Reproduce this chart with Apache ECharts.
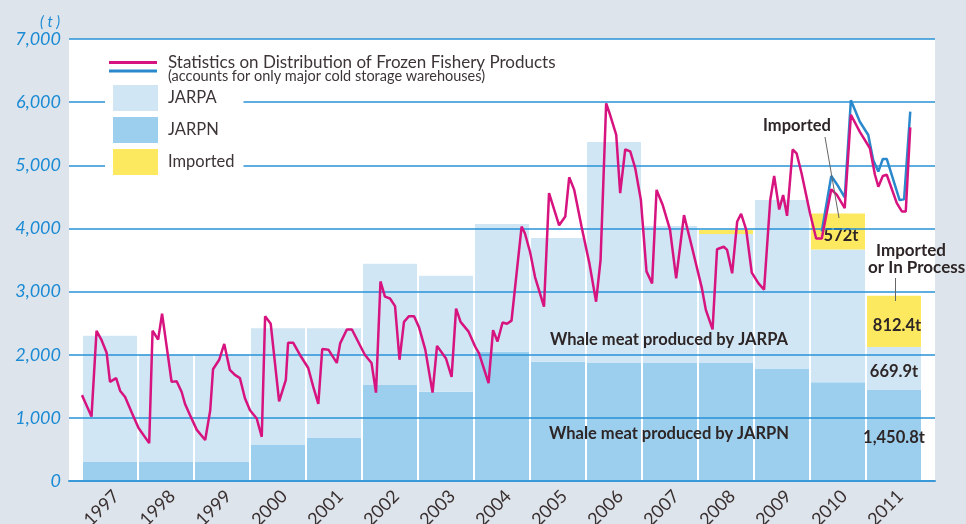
<!DOCTYPE html>
<html>
<head>
<meta charset="utf-8">
<script src="https://cdn.jsdelivr.net/npm/echarts@6/dist/echarts.min.js"></script>
<style>
  html, body { margin: 0; padding: 0; background: #dde4eb; }
  #chart { width: 966px; height: 524px; }
</style>
</head>
<body>
<div id="chart"></div>
<script>
// years on the category axis
var years = ['1997', '1998', '1999', '2000', '2001', '2002', '2003', '2004',
             '2005', '2006', '2007', '2008', '2009', '2010', '2011'];

// whale meat stock (t), stacked bars
var jarpn = [300, 300, 300, 570, 690, 1520, 1415, 2045, 1890, 1875, 1875, 1875, 1780, 1565, 1450.8];
var jarpa = [2000, 1700, 1700, 1850, 1730, 1920, 1835, 2025, 1960, 3495, 2165, 2035, 2670, 2100, 669.9];
var imported = [0, 0, 0, 0, 0, 0, 0, 0, 0, 0, 0, 65, 0, 572, 812.4];

var jarpnLabels = ['', '', '', '', '', '', '', '', '', '', '', '', '', '', '1,450.8t'];
var jarpaLabels = ['', '', '', '', '', '', '', '', '', '', '', '', '', '', '669.9t'];
var importedLabels = ['', '', '', '', '', '', '', '', '', '', '', '', '', '572t', '812.4t'];

// Statistics on Distribution of Frozen Fishery Products (monthly, time in years)
var distTime = [1997.00, 1997.08, 1997.17, 1997.26, 1997.35, 1997.44, 1997.50, 1997.61, 1997.68, 1997.77, 1997.89,
  1998.01, 1998.20, 1998.26, 1998.36, 1998.43, 1998.60, 1998.69, 1998.78, 1998.84, 1998.93,
  1999.05, 1999.20, 1999.29, 1999.34, 1999.45, 1999.54, 1999.64, 1999.73, 1999.82, 1999.91,
  2000.00, 2000.12, 2000.21, 2000.27, 2000.37, 2000.52, 2000.64, 2000.68, 2000.77, 2000.89,
  2001.04, 2001.13, 2001.22, 2001.29, 2001.40, 2001.55, 2001.61, 2001.73, 2001.82,
  2002.05, 2002.17, 2002.25, 2002.33, 2002.41, 2002.50, 2002.59, 2002.67, 2002.75, 2002.84, 2002.93,
  2003.02, 2003.13, 2003.26, 2003.34, 2003.50, 2003.60, 2003.68, 2003.76, 2003.90,
  2004.02, 2004.09, 2004.26, 2004.34, 2004.42, 2004.51, 2004.59, 2004.67, 2004.85, 2004.91,
  2005.00, 2005.09, 2005.25, 2005.34, 2005.52, 2005.63, 2005.70, 2005.79, 2005.92,
  2006.06, 2006.18, 2006.26, 2006.36, 2006.43, 2006.54, 2006.61, 2006.70, 2006.79, 2006.88, 2006.98,
  2007.08, 2007.18, 2007.26, 2007.37, 2007.50, 2007.61, 2007.75, 2007.89,
  2008.07, 2008.14, 2008.26, 2008.34, 2008.46, 2008.52, 2008.61, 2008.70, 2008.77, 2008.86, 2008.96,
  2009.08, 2009.18, 2009.29, 2009.36, 2009.45, 2009.52, 2009.59, 2009.69, 2009.76, 2009.85,
  2010.00, 2010.11, 2010.21, 2010.38, 2010.48, 2010.62, 2010.73, 2010.89,
  2011.07, 2011.16, 2011.22, 2011.30, 2011.37, 2011.55, 2011.64, 2011.71, 2011.79];
var distValue = [1360, 1200, 1020, 2380, 2230, 2030, 1570, 1630, 1430, 1330, 1080,
  840, 600, 2380, 2240, 2650, 1570, 1580, 1410, 1220, 1040,
  810, 650, 1120, 1770, 1920, 2170, 1760, 1680, 1630, 1310,
  1120, 990, 700, 2610, 2490, 1260, 1600, 2190, 2190, 2000,
  1790, 1490, 1220, 2090, 2080, 1870, 2180, 2400, 2400,
  2000, 1870, 1400, 3160, 2920, 2890, 2770, 1920, 2520, 2610, 2610,
  2430, 2080, 1400, 2140, 1940, 1650, 2730, 2520, 2370,
  2130, 2020, 1550, 2390, 2210, 2510, 2490, 2540, 4030, 3920,
  3630, 3230, 2760, 4560, 4050, 4190, 4810, 4610, 4030,
  3450, 2840, 3500, 5980, 5800, 5480, 4560, 5250, 5220, 4950, 4450,
  3320, 3130, 4610, 4370, 3980, 3210, 4210, 3710,
  3050, 2710, 2400, 3670, 3710, 3660, 3290, 4110, 4230, 3980, 3300,
  3130, 3030, 4450, 4830, 4300, 4530, 4200, 5250, 5190, 4870,
  4240, 3840, 3840, 4620, 4530, 4320, 5800, 5530,
  5270, 4850, 4660, 4830, 4850, 4400, 4270, 4270, 5600];

// upper line from 2010 on
var majorTime = [2010.21, 2010.38, 2010.48, 2010.62, 2010.73, 2010.89,
  2011.04, 2011.13, 2011.22, 2011.30, 2011.37, 2011.60, 2011.68, 2011.79];
var majorValue = [3950, 4830, 4700, 4490, 6030, 5690,
  5480, 5080, 4900, 5100, 5100, 4450, 4460, 5850];

(function () {
    var chart = echarts.init(document.getElementById('chart'));
    var dark = '#2e2626';
    var gridBlue = '#2792d6';

    function pairs(t, v) {
        return t.map(function (x, i) { return [x, v[i]]; });
    }

    function labelFrom(list, offset) {
        return {
            show: true,
            position: 'inside',
            offset: offset || [0, 0],
            fontFamily: 'Lato',
            fontWeight: 'bold',
            fontSize: 16.5,
            color: dark,
            formatter: function (p) { return list[p.dataIndex]; }
        };
    }

    var option = {
        backgroundColor: '#dde4eb',
        animation: false,
        title: {
            text: '( t )',
            left: 35, top: 10,
            textStyle: { color: '#1a8ad4', fontStyle: 'italic', fontFamily: 'Lato', fontSize: 15, fontWeight: 'normal' }
        },
        legend: [
            {
                data: [{ name: 'Statistics on Distribution of Frozen Fishery Products', icon: 'rect' }],
                left: 109, top: 54, padding: 0, z: 7,
                itemWidth: 48, itemHeight: 3, selectedMode: false,
                textStyle: { fontFamily: 'Lato', fontSize: 17, color: '#3d3535', padding: [0, 0, 0, 6] }
            },
            {
                data: [{ name: 'Major cold storage warehouses', icon: 'rect' }],
                left: 109, top: 69.5, padding: 0, z: 7,
                itemWidth: 48, itemHeight: 3, selectedMode: false,
                formatter: function () { return ''; },
                textStyle: { fontSize: 1 }
            },
            {
                data: [{ name: 'JARPA', icon: 'rect' }, { name: 'JARPN', icon: 'rect' }, { name: 'Imported', icon: 'rect' }],
                orient: 'vertical',
                left: 105, top: 81, z: 6,
                padding: [4, 9, 6, 8],
                backgroundColor: '#fff',
                itemWidth: 45, itemHeight: 26, itemGap: 6, selectedMode: false,
                textStyle: { fontFamily: 'Lato', fontSize: 16.5, color: '#3d3535', padding: [0, 0, 0, 5] }
            }
        ],
        grid: [
            { left: 69, right: 31, top: 39, bottom: 43, show: true, backgroundColor: '#fff', borderWidth: 0, outerBoundsMode: 'none' },
            { left: 82, right: 44, top: 39, bottom: 43, outerBoundsMode: 'none' }
        ],
        xAxis: [
            {
                type: 'value', gridIndex: 0, min: 1996.768, max: 2012.232, z: 5,
                axisLine: { show: true, lineStyle: { color: '#3a9ad9', width: 2 } },
                axisTick: { show: false }, axisLabel: { show: false }, splitLine: { show: false }
            },
            {
                type: 'category', gridIndex: 1, data: years,
                axisLine: { show: false }, axisTick: { show: false },
                axisLabel: {
                    interval: 0, rotate: 45, margin: 6, verticalAlign: 'top',
                    fontFamily: 'Lato', fontSize: 18, color: '#3a2f2f'
                }
            }
        ],
        yAxis: [
            {
                type: 'value', gridIndex: 0, min: 0, max: 7000, interval: 1000, z: 3,
                axisLine: { show: false }, axisTick: { show: false },
                axisLabel: {
                    margin: 8, fontFamily: 'Lato', fontStyle: 'italic', fontSize: 18, color: '#1a8ad4',
                    formatter: function (v) { return v === 0 ? '0' : v.toLocaleString('en-US'); }
                },
                splitLine: { lineStyle: { color: gridBlue, width: 1.5 } }
            },
            { type: 'value', gridIndex: 1, min: 0, max: 7000, interval: 1000, show: false, splitLine: { show: false } }
        ],
        series: [
            {
                name: 'JARPN', type: 'bar', stack: 'whale', xAxisIndex: 1, yAxisIndex: 1,
                barWidth: 54, z: 2, data: jarpn,
                itemStyle: { color: '#9ccfee' }, label: labelFrom(jarpnLabels, [0, 2])
            },
            {
                name: 'JARPA', type: 'bar', stack: 'whale', xAxisIndex: 1, yAxisIndex: 1,
                barWidth: 54, z: 2, data: jarpa,
                itemStyle: { color: '#d0e6f5' }, label: labelFrom(jarpaLabels, [0, 3])
            },
            {
                name: 'Imported', type: 'bar', stack: 'whale', xAxisIndex: 1, yAxisIndex: 1,
                barWidth: 54, z: 2, data: imported,
                itemStyle: { color: '#fde95f' }, label: labelFrom(importedLabels, [3, 4])
            },
            {
                name: 'Major cold storage warehouses', type: 'line', xAxisIndex: 0, yAxisIndex: 0,
                data: pairs(majorTime, majorValue), symbol: 'none', z: 5,
                itemStyle: { color: '#2a88cc' }, lineStyle: { color: '#2a88cc', width: 2.5 }
            },
            {
                name: 'Statistics on Distribution of Frozen Fishery Products', type: 'line', xAxisIndex: 0, yAxisIndex: 0,
                data: pairs(distTime, distValue), symbol: 'none', z: 6,
                itemStyle: { color: '#d6137f' }, lineStyle: { color: '#d6137f', width: 2.5 }
            }
        ],
        graphic: [
            { type: 'text', z: 10, style: { text: '(accounts for only major cold storage warehouses)', x: 168, y: 76, align: 'left', verticalAlign: 'middle', font: '14.5px Lato', fill: '#3d3535' } },
            { type: 'text', z: 10, style: { text: 'Whale meat produced by JARPA', x: 669, y: 340, align: 'center', verticalAlign: 'middle', font: 'bold 16.5px Lato', fill: dark } },
            { type: 'text', z: 10, style: { text: 'Whale meat produced by JARPN', x: 669, y: 434, align: 'center', verticalAlign: 'middle', font: 'bold 16.5px Lato', fill: dark } },
            { type: 'text', z: 10, style: { text: 'Imported', x: 797, y: 126, align: 'center', verticalAlign: 'middle', font: 'bold 16.5px Lato', fill: dark } },
            { type: 'text', z: 10, style: { text: 'Imported', x: 876, y: 251, align: 'left', verticalAlign: 'middle', font: 'bold 17px Lato', fill: dark } },
            { type: 'text', z: 10, style: { text: 'or In Process', x: 868, y: 268, align: 'left', verticalAlign: 'middle', font: 'bold 17px Lato', fill: dark } },
            { type: 'line', z: 10, shape: { x1: 825, y1: 137, x2: 839, y2: 218 }, style: { stroke: '#666', lineWidth: 1 } },
            { type: 'line', z: 10, shape: { x1: 895.5, y1: 278, x2: 895.5, y2: 301 }, style: { stroke: '#666', lineWidth: 1 } }
        ]
    };

    chart.setOption(option);
})();
</script>
</body>
</html>
